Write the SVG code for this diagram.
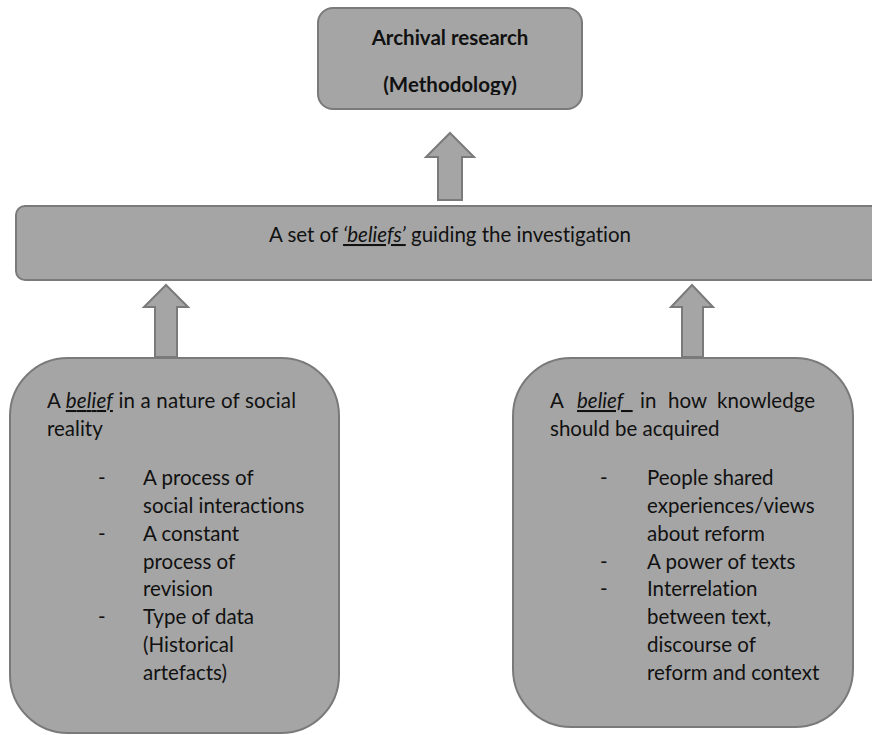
<svg xmlns="http://www.w3.org/2000/svg" width="872" height="735" viewBox="0 0 872 735">
  <style>
    .box { fill: #a5a5a5; stroke: #7a7a7a; stroke-width: 2; }
    .arrow { fill: #a5a5a5; stroke: #7a7a7a; stroke-width: 2; stroke-linejoin: miter; }
    text { font-family: Lato, "Open Sans", "Liberation Sans", sans-serif; font-size: 20.5px; fill: #111;
           font-variant-ligatures: none; font-feature-settings: "liga" 0, "clig" 0; }
    .bold { font-weight: bold; }
    .em { font-style: italic; text-decoration: underline; }
  </style>
  <defs>
    <clipPath id="topClip">
      <rect x="318" y="8" width="264" height="87"/>
    </clipPath>
  </defs>

  <!-- connectors: block arrows pointing upwards -->
  <g id="connectors">
    <path class="arrow" d="M450,133 L474,157 L462,157 L462,200 L438,200 L438,157 L426,157 Z"/>
    <path class="arrow" d="M166,285 L188,307 L177,307 L177,357 L155,357 L155,307 L144,307 Z"/>
    <path class="arrow" d="M692,285 L713,307 L703,307 L703,357 L682,357 L682,307 L671,307 Z"/>
  </g>

  <!-- methodology -->
  <g id="methodology">
    <rect class="box" x="318" y="8" width="264" height="101" rx="15"/>
    <g clip-path="url(#topClip)">
      <text class="bold" x="450" y="45" text-anchor="middle">Archival research</text>
      <text class="bold" x="450" y="92" text-anchor="middle">(Methodology)</text>
    </g>
  </g>

  <!-- guiding beliefs -->
  <g id="beliefs">
    <rect class="box" x="16" y="206" width="884" height="74" rx="9"/>
    <text x="450" y="242" text-anchor="middle">A set of <tspan class="em">‘beliefs’</tspan> guiding the investigation</text>
  </g>

  <!-- ontology -->
  <g id="ontology">
    <rect class="box" x="10" y="358" width="329" height="375" rx="58"/>
    <text x="47" y="408" textLength="249" lengthAdjust="spacing">A <tspan class="em">belief</tspan> in a nature of social</text>
    <text x="47" y="436">reality</text>
    <text x="98" y="485">-</text>
    <text x="143" y="485">A process of</text>
    <text x="143" y="513">social interactions</text>
    <text x="98" y="541">-</text>
    <text x="143" y="541">A constant</text>
    <text x="143" y="569">process of</text>
    <text x="143" y="596">revision</text>
    <text x="98" y="624">-</text>
    <text x="143" y="624">Type of data</text>
    <text x="143" y="652">(Historical</text>
    <text x="143" y="680">artefacts)</text>
  </g>

  <!-- epistemology -->
  <g id="epistemology">
    <rect class="box" x="513" y="358" width="340" height="369" rx="58"/>
    <text x="550" y="408">A</text>
    <text x="577" y="408" class="em">belief&#160;&#160;</text>
    <text x="640" y="408">in</text>
    <text x="668" y="408">how</text>
    <text x="815" y="408" text-anchor="end">knowledge</text>
    <text x="550" y="436">should be acquired</text>
    <text x="600" y="485">-</text>
    <text x="647" y="485">People shared</text>
    <text x="647" y="513">experiences/views</text>
    <text x="647" y="541">about reform</text>
    <text x="600" y="569">-</text>
    <text x="647" y="569">A power of texts</text>
    <text x="600" y="596">-</text>
    <text x="647" y="596">Interrelation</text>
    <text x="647" y="624">between text,</text>
    <text x="647" y="652">discourse of</text>
    <text x="647" y="680">reform and context</text>
  </g>
</svg>
